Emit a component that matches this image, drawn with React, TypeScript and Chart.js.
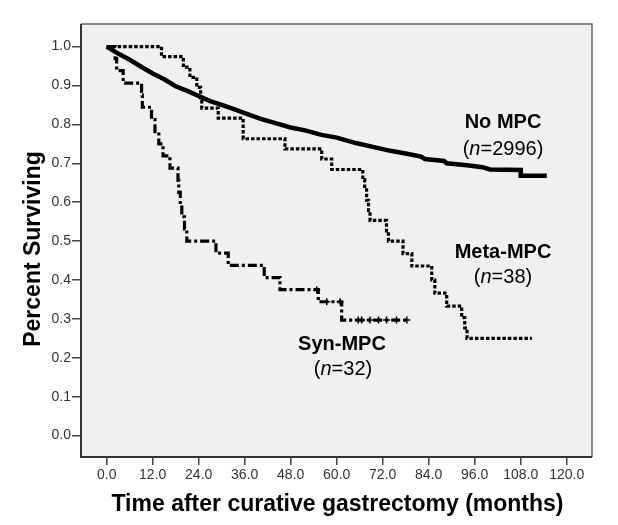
import React, { useEffect, useRef } from "react";
import { Chart, registerables } from "chart.js";

Chart.register(...registerables);

// ---- Data ----
const xTicks = [0, 12, 24, 36, 48, 60, 72, 84, 96, 108, 120];
const yTicks = [0, 0.1, 0.2, 0.3, 0.4, 0.5, 0.6, 0.7, 0.8, 0.9, 1.0];

// No MPC (n=2996)
const noMpcTime = [0, 3, 6, 9, 12, 15, 18, 21, 24, 27, 30, 33, 36, 40, 44, 48, 52, 56, 60, 65, 70, 74, 78, 82, 83, 88, 88.7, 94, 98, 100, 108, 108, 114.8];
const noMpcSurv = [1.0, 0.982, 0.966, 0.948, 0.931, 0.916, 0.898, 0.886, 0.873, 0.86, 0.85, 0.84, 0.829, 0.815, 0.803, 0.792, 0.784, 0.773, 0.766, 0.752, 0.741, 0.732, 0.725, 0.717, 0.711, 0.706, 0.7, 0.695, 0.69, 0.684, 0.683, 0.668, 0.668];

// Meta-MPC (n=38)
const metaTime = [0, 14.3, 20.0, 21.7, 23.5, 24.5, 24.8, 29.1, 35.6, 46.5, 56.1, 58.7, 66.8, 67.3, 67.8, 68.3, 68.7, 73.0, 73.5, 77.3, 79.6, 84.8, 85.6, 88.7, 92.6, 93.4, 94.0, 110.9];
const metaSurv = [1.0, 0.974, 0.947, 0.921, 0.895, 0.868, 0.842, 0.816, 0.763, 0.737, 0.711, 0.684, 0.658, 0.632, 0.605, 0.579, 0.553, 0.526, 0.5, 0.468, 0.436, 0.4, 0.366, 0.333, 0.303, 0.277, 0.25, 0.25];

// Syn-MPC (n=32)
const synTime = [0, 2.2, 2.6, 4.3, 9.1, 9.3, 11.7, 12.6, 13.6, 14.7, 16.5, 18.6, 18.8, 19.2, 19.6, 20.3, 20.9, 28.5, 31.7, 41.1, 45.2, 55.2, 61.3, 78.3];
const synSurv = [1.0, 0.969, 0.938, 0.906, 0.875, 0.844, 0.8125, 0.781, 0.75, 0.719, 0.6875, 0.656, 0.625, 0.594, 0.5625, 0.531, 0.5, 0.469, 0.4375, 0.406, 0.375, 0.344, 0.297, 0.297];
const synCensorTime = [54.8, 57.4, 60.9, 65.6, 66.5, 68.7, 70.9, 73.0, 75.6, 78.3];
const synCensorSurv = [0.375, 0.344, 0.344, 0.297, 0.297, 0.297, 0.297, 0.297, 0.297, 0.297];

const FONT = '"Liberation Sans", Arial, Helvetica, sans-serif';

const pts = (xs: number[], ys: number[]) => xs.map((x, i) => ({ x, y: ys[i] }));

const framePlugin = {
  id: "framePlugin",
  beforeDatasetsDraw(chart: any) {
    const { ctx, chartArea: a } = chart;
    ctx.save();
    ctx.fillStyle = "#f0f0f0";
    ctx.fillRect(a.left, a.top, a.right - a.left, a.bottom - a.top);
    ctx.lineWidth = 1.5;
    ctx.strokeStyle = "#666";
    ctx.beginPath();
    ctx.moveTo(a.left, a.top);
    ctx.lineTo(a.right, a.top);
    ctx.lineTo(a.right, a.bottom);
    ctx.stroke();
    ctx.lineWidth = 2;
    ctx.strokeStyle = "#333";
    ctx.beginPath();
    ctx.moveTo(a.left, a.top);
    ctx.lineTo(a.left, a.bottom);
    ctx.lineTo(a.right, a.bottom);
    ctx.stroke();
    ctx.restore();
  },
  afterDraw(chart: any) {
    const { ctx, chartArea: a } = chart;
    ctx.save();
    ctx.fillStyle = "#000";
    ctx.textAlign = "center";
    ctx.textBaseline = "alphabetic";
    const bold = (t: string, x: number, y: number) => {
      ctx.font = `bold 20px ${FONT}`;
      ctx.fillText(t, x, y);
    };
    const nLabel = (num: string, cx: number, y: number) => {
      const p1 = "(";
      const p3 = "=" + num + ")";
      ctx.font = `italic 20px ${FONT}`;
      const wN = ctx.measureText("n").width;
      ctx.font = `20px ${FONT}`;
      const w1 = ctx.measureText(p1).width;
      const w3 = ctx.measureText(p3).width;
      let x = cx - (w1 + wN + w3) / 2;
      ctx.textAlign = "left";
      ctx.fillText(p1, x, y);
      x += w1;
      ctx.font = `italic 20px ${FONT}`;
      ctx.fillText("n", x, y);
      x += wN;
      ctx.font = `20px ${FONT}`;
      ctx.fillText(p3, x, y);
      ctx.textAlign = "center";
    };
    bold("No MPC", 503, 128);
    nLabel("2996", 503, 155);
    bold("Meta-MPC", 503, 258);
    nLabel("38", 503, 283);
    bold("Syn-MPC", 342, 350);
    nLabel("32", 343, 375);

    // axis titles
    ctx.font = `bold 23px ${FONT}`;
    ctx.fillText("Time after curative gastrectomy (months)", (a.left + a.right) / 2 + 1, 511);
    ctx.save();
    ctx.translate(40, 249);
    ctx.rotate(-Math.PI / 2);
    ctx.fillText("Percent Surviving", 0, 0);
    ctx.restore();
    ctx.restore();
  },
};

export default function App() {
  const ref = useRef<HTMLCanvasElement>(null);
  useEffect(() => {
    if (!ref.current) return;
    const tickFont = { family: FONT, size: 14 };
    const chart = new Chart(ref.current, {
      type: "line",
      data: {
        datasets: [
          {
            label: "Syn-MPC",
            data: pts(synTime, synSurv),
            borderColor: "#000",
            borderWidth: 3.2,
            borderDash: [9, 3, 3, 3],
            stepped: true,
            pointRadius: 0,
            fill: false,
          } as any,
          {
            label: "Meta-MPC",
            data: pts(metaTime, metaSurv),
            borderColor: "#000",
            borderWidth: 3.2,
            borderDash: [3.5, 2],
            stepped: true,
            pointRadius: 0,
            fill: false,
          },
          {
            label: "No MPC",
            data: pts(noMpcTime, noMpcSurv),
            borderColor: "#000",
            borderWidth: 4.5,
            tension: 0,
            pointRadius: 0,
            fill: false,
          },
          {
            label: "Syn-MPC censored",
            data: pts(synCensorTime, synCensorSurv),
            showLine: false,
            pointStyle: "cross",
            pointRadius: 3.5,
            pointBorderWidth: 1.5,
            pointBorderColor: "#000",
            borderColor: "#000",
          },
        ],
      },
      options: {
        responsive: false,
        animation: false,
        events: [],
        layout: { padding: { left: 0, top: 24, right: 26, bottom: 0 } },
        plugins: { legend: { display: false }, tooltip: { enabled: false }, title: { display: false } },
        scales: {
          x: {
            type: "linear",
            min: -6.7,
            max: 126.6,
            afterFit: (s: any) => {
              s.height = 68;
            },
            afterBuildTicks: (s: any) => {
              s.ticks = xTicks.map((v) => ({ value: v }));
            },
            ticks: {
              callback: (v: any) => Number(v).toFixed(1),
              font: tickFont,
              color: "#333",
              padding: 2,
              maxRotation: 0,
              autoSkip: false,
            },
            grid: { drawOnChartArea: false, drawTicks: true, tickLength: 8, color: "#444", lineWidth: 1.5 },
            border: { display: false },
          },
          y: {
            type: "linear",
            min: -0.055,
            max: 1.058,
            afterFit: (s: any) => {
              s.width = 81;
            },
            afterBuildTicks: (s: any) => {
              s.ticks = yTicks.map((v) => ({ value: v }));
            },
            ticks: {
              callback: (v: any) => Number(v).toFixed(1),
              font: tickFont,
              color: "#333",
              padding: 1,
              autoSkip: false,
            },
            grid: { drawOnChartArea: false, drawTicks: true, tickLength: 9, color: "#444", lineWidth: 1.5 },
            border: { display: false },
          },
        },
      },
      plugins: [framePlugin],
    } as any);
    return () => chart.destroy();
  }, []);
  return (
    <div style={{ position: "fixed", left: 0, top: 0, width: 618, height: 525, background: "#fff" }}>
      <canvas ref={ref} width={618} height={525} style={{ display: "block" }} />
    </div>
  );
}
